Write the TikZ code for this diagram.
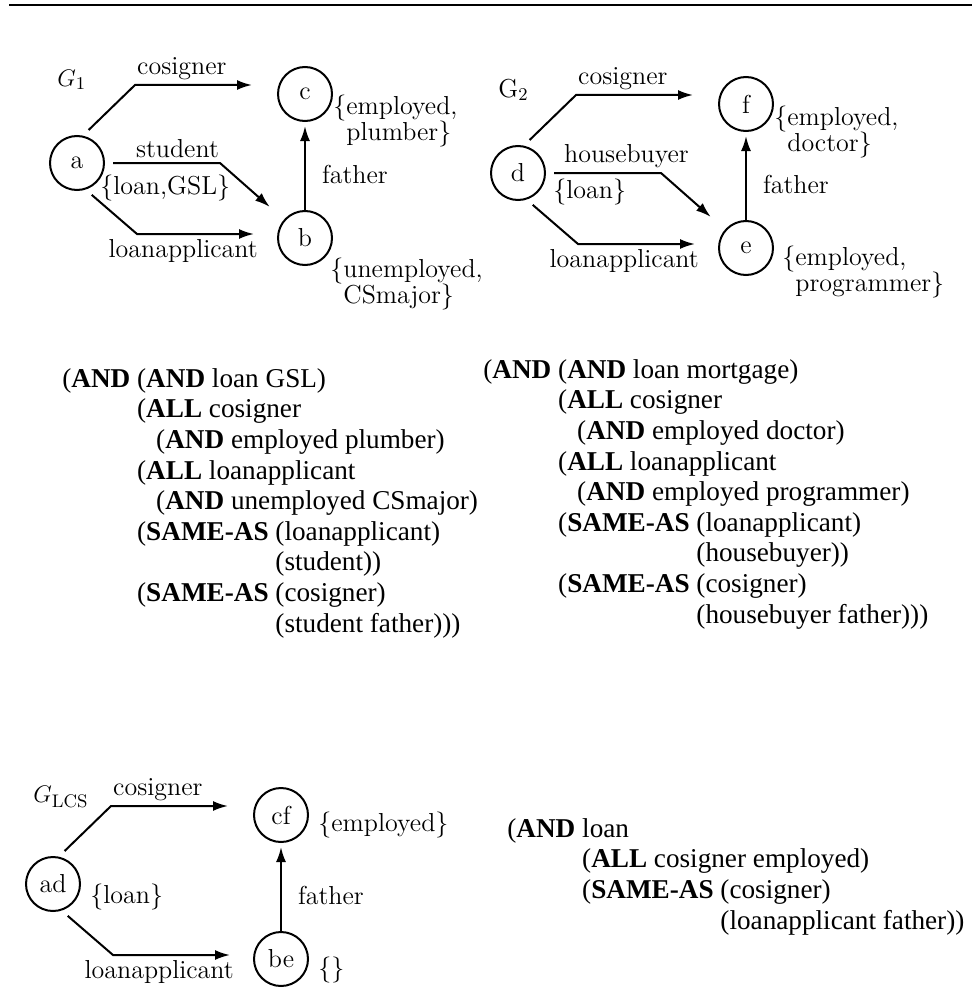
\documentclass[tikz,border=0pt]{standalone}
\usepackage{fontspec}
\newfontfamily\tms{Liberation Serif}
\usetikzlibrary{arrows.meta,positioning}

\newcommand{\kw}[1]{\textbf{#1}}
\newcommand{\indA}{\hphantom{(\kw{AND}~}}
\newcommand{\indS}{\hphantom{(\kw{SAME-AS}~}}

\begin{document}
\begin{tikzpicture}[
    x=0.5pt, y=-0.5pt,
    vertex/.style={circle, draw=black, line width=1pt, minimum size=27pt, inner sep=0pt, font=\fontsize{13}{15}\selectfont},
    lbl/.style={font=\fontsize{13}{15}\selectfont, inner sep=2pt},
    attr/.style={font=\fontsize{13}{13}\selectfont, align=left, anchor=west, inner sep=0pt},
    concept/.style={font=\tms\fontsize{13.6}{15.3}\selectfont, align=left, anchor=north west, inner sep=0pt},
    edge/.style={line width=1pt, -{Latex[length=7.5pt,width=5pt]}}
]
\useasboundingbox (0,0) rectangle (972,1006);

% rule at the top
\draw[line width=1pt] (9,5) -- (972,5);

% G1
\node[lbl, anchor=west] (g1) at (53,80) {$G_1$};
\node[vertex] (a) at (77,163) {a};
\node[vertex] (c) at (305,94) {c};
\node[vertex] (b) at (305,238) {b};
\coordinate (a-cos) at (135,85);
\coordinate (a-stu) at (220,163);
\coordinate (a-loan) at (137,234);

\draw[edge, shorten <=4pt, shorten >=12.5pt] (a.78) -- (a-cos) -- node[lbl, above, pos=.33] {cosigner} (c.west |- a-cos);
\draw[edge, shorten <=4pt, shorten >=9.5pt] (a.east) -- node[lbl, above, pos=.63] {student} (a-stu) -- (b);
\draw[edge, shorten <=4pt, shorten >=11.5pt] (a.-72) -- (a-loan) -- node[lbl, below, pos=.33] {loanapplicant} (b.west |- a-loan);
\draw[edge, shorten >=2pt] (b) -- node[lbl, right, pos=.4, xshift=6pt] {father} (c);

\node[attr] (a-at) at (100,188) {\{loan,GSL\}};
\node[attr] (c-at) at (333,121) {\{employed,\\\hphantom{\{}plumber\}};
\node[attr] (b-at) at (330,284) {\{unemployed,\\\hphantom{\{}CSmajor\}};

% G2
\node[lbl, anchor=west] (g2) at (494,90) {G$_2$};
\node[vertex] (d) at (518,173) {d};
\node[vertex] (f) at (746,104) {f};
\node[vertex] (e) at (746,248) {e};
\coordinate (d-cos) at (576,95);
\coordinate (d-hou) at (661,173);
\coordinate (d-loan) at (578,244);

\draw[edge, shorten <=4pt, shorten >=12.5pt] (d.78) -- (d-cos) -- node[lbl, above, pos=.33] {cosigner} (f.west |- d-cos);
\draw[edge, shorten <=4pt, shorten >=9.5pt] (d.east) -- node[lbl, above, pos=.7] {housebuyer} (d-hou) -- (e);
\draw[edge, shorten <=4pt, shorten >=11.5pt] (d.-72) -- (d-loan) -- node[lbl, below, pos=.33] {loanapplicant} (e.west |- d-loan);
\draw[edge, shorten >=2pt] (e) -- node[lbl, right, pos=.4, xshift=6pt] {father} (f);

\node[attr] (d-at) at (553,192) {\{loan\}};
\node[attr] (f-at) at (774,132) {\{employed,\\\hphantom{\{}doctor\}};
\node[attr] (e-at) at (782,272) {\{employed,\\\hphantom{\{}programmer\}};

% concepts of G1 and G2
\node[concept] (con1) at (62,368) {(\kw{AND} (\kw{AND} loan GSL)\\
\indA(\kw{ALL} cosigner\\
\indA\hspace*{0.7em}(\kw{AND} employed plumber)\\
\indA(\kw{ALL} loanapplicant\\
\indA\hspace*{0.7em}(\kw{AND} unemployed CSmajor)\\
\indA(\kw{SAME-AS} (loanapplicant)\\
\indA\indS(student))\\
\indA(\kw{SAME-AS} (cosigner)\\
\indA\indS(student father)))};

\node[concept] (con2) at (483,359) {(\kw{AND} (\kw{AND} loan mortgage)\\
\indA(\kw{ALL} cosigner\\
\indA\hspace*{0.7em}(\kw{AND} employed doctor)\\
\indA(\kw{ALL} loanapplicant\\
\indA\hspace*{0.7em}(\kw{AND} employed programmer)\\
\indA(\kw{SAME-AS} (loanapplicant)\\
\indA\indS(housebuyer))\\
\indA(\kw{SAME-AS} (cosigner)\\
\indA\indS(housebuyer father)))};

% G_LCS
\node[lbl, anchor=west] (glcs) at (29,797) {$G_{\mathrm{LCS}}$};
\node[vertex] (ad) at (53,884) {ad};
\node[vertex] (cf) at (281,815) {cf};
\node[vertex] (be) at (281,959) {be};
\coordinate (ad-cos) at (111,806);
\coordinate (ad-loan) at (113,955);

\draw[edge, shorten <=4pt, shorten >=12.5pt] (ad.78) -- (ad-cos) -- node[lbl, above, pos=.33] {cosigner} (cf.west |- ad-cos);
\draw[edge, shorten <=4pt, shorten >=11.5pt] (ad.-72) -- (ad-loan) -- node[lbl, below, pos=.33] {loanapplicant} (be.west |- ad-loan);
\draw[edge, shorten >=2pt] (be) -- node[lbl, right, pos=.4, xshift=6pt] {father} (cf);

\node[attr] (ad-at) at (90,897) {\{loan\}};
\node[attr] (cf-at) at (318,825) {\{employed\}};
\node[attr] (be-at) at (318,970) {\{\}};

% concept of G_LCS
\node[concept] (con3) at (507,818) {(\kw{AND} loan\\
\indA(\kw{ALL} cosigner employed)\\
\indA(\kw{SAME-AS} (cosigner)\\
\indA\indS(loanapplicant father))};

\end{tikzpicture}
\end{document}
